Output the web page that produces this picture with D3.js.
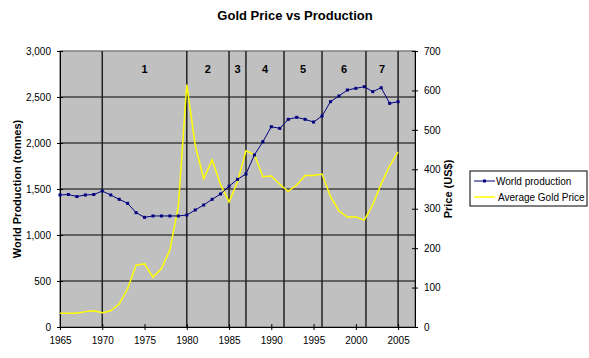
<!DOCTYPE html>
<html>
<head>
<meta charset="utf-8">
<script src="https://cdn.jsdelivr.net/npm/d3@7"></script>
<style>
  body { margin: 0; background: #fff; }
  text { font-family: Arial, "Liberation Sans", sans-serif; }
</style>
</head>
<body>
<div id="chart"></div>
<script>
// data
const years = d3.range(1965, 2006);
const production = [1435,1440,1418,1435,1440,1478,1435,1388,1344,1243,
                    1192,1207,1207,1207,1207,1217,1272,1326,1388,1446,
                    1530,1605,1663,1870,2014,2177,2159,2257,2279,2257,
                    2228,2293,2449,2511,2576,2594,2612,2558,2601,2431,2449];
const goldPrice = [35,35,35,39,41,36,41,58,97,157,
                   160,126,148,195,306,615,460,376,424,361,
                   317,368,447,437,381,383,362,344,360,384,
                   384,388,331,294,279,279,271,310,363,409,444];
const eraBounds = [1970, 1980, 1985, 1987, 1991.5, 1996, 2001.2, 2005];
const eraLabels = ["1", "2", "3", "4", "5", "6", "7"];
const xTicks = [1965, 1970, 1975, 1980, 1985, 1990, 1995, 2000, 2005];

const width = 589, height = 358;
const m = {left: 60, right: 174, top: 51, bottom: 31};
const plotW = width - m.left - m.right;
const plotH = height - m.top - m.bottom;

const svg = d3.select("#chart").append("svg")
    .attr("width", width)
    .attr("height", height);

// title
svg.append("text")
    .attr("x", 295).attr("y", 20)
    .attr("text-anchor", "middle")
    .attr("font-size", 13).attr("font-weight", "bold")
    .text("Gold Price vs Production");

const g = svg.append("g").attr("transform", `translate(${m.left},${m.top})`);

const x = d3.scaleLinear().domain([1965, 2007]).range([0, plotW]);
const yL = d3.scaleLinear().domain([0, 3000]).range([plotH, 0]);
const yR = d3.scaleLinear().domain([0, 700]).range([plotH, 0]);

// plot area
g.append("rect")
    .attr("width", plotW).attr("height", plotH)
    .attr("fill", "#c0c0c0")
    .attr("stroke", "#808080").attr("stroke-width", 1.5);

// horizontal gridlines
g.selectAll(".hgrid")
    .data(d3.range(500, 3000, 500))
    .enter().append("line")
    .attr("x1", 0).attr("x2", plotW)
    .attr("y1", d => yL(d)).attr("y2", d => yL(d))
    .attr("stroke", "#000").attr("stroke-width", 1);

// era boundaries
g.selectAll(".era")
    .data(eraBounds)
    .enter().append("line")
    .attr("x1", d => x(d)).attr("x2", d => x(d))
    .attr("y1", 0).attr("y2", plotH)
    .attr("stroke", "#222").attr("stroke-width", 1.5);

g.selectAll(".eraLabel")
    .data(eraLabels)
    .enter().append("text")
    .attr("x", (d, i) => (x(eraBounds[i]) + x(eraBounds[i + 1])) / 2)
    .attr("y", 22)
    .attr("text-anchor", "middle")
    .attr("font-size", 11).attr("font-weight", "bold")
    .text(d => d);

// axes
const axL = g.append("g")
    .call(d3.axisLeft(yL).tickValues(d3.range(0, 3001, 500))
        .tickFormat(d3.format(",")).tickSizeInner(3).tickSizeOuter(0).tickPadding(6));

const axR = g.append("g")
    .attr("transform", `translate(${plotW},0)`)
    .call(d3.axisRight(yR).tickValues(d3.range(0, 701, 100))
        .tickSizeInner(3).tickSizeOuter(0).tickPadding(6));
axR.selectAll(".tick line").attr("x1", -3);

const axB = g.append("g")
    .attr("transform", `translate(0,${plotH})`)
    .call(d3.axisBottom(x).tickValues(xTicks).tickFormat(d3.format("d"))
        .tickSizeInner(3).tickSizeOuter(0).tickPadding(7));
axB.selectAll(".tick line").attr("y1", -3);

[axL, axR, axB].forEach(a => {
    a.select(".domain").attr("stroke", "#000");
    a.selectAll(".tick line").attr("stroke", "#000");
    a.selectAll("text").attr("font-size", 10).attr("fill", "#000")
        .attr("font-family", "Arial, 'Liberation Sans', sans-serif");
});
axL.selectAll(".tick line").attr("x1", -3).attr("x2", 3);

// axis titles
svg.append("text")
    .attr("transform", `translate(21,${m.top + plotH / 2}) rotate(-90)`)
    .attr("text-anchor", "middle")
    .attr("font-size", 11).attr("font-weight", "bold")
    .text("World Production (tonnes)");

svg.append("text")
    .attr("transform", `translate(452,${m.top + plotH / 2}) rotate(-90)`)
    .attr("text-anchor", "middle")
    .attr("font-size", 11).attr("font-weight", "bold")
    .text("Price (US$)");

// lines
const prodLine = d3.line().x((d, i) => x(years[i])).y(d => yL(d));
const priceLine = d3.line().x((d, i) => x(years[i])).y(d => yR(d));

g.append("path")
    .datum(goldPrice)
    .attr("d", priceLine)
    .attr("fill", "none")
    .attr("stroke", "#ffff00").attr("stroke-width", 1.5);

g.append("path")
    .datum(production)
    .attr("d", prodLine)
    .attr("fill", "none")
    .attr("stroke", "#000080").attr("stroke-width", 1);

g.selectAll(".pt")
    .data(production)
    .enter().append("rect")
    .attr("x", (d, i) => x(years[i]) - 1.5)
    .attr("y", d => yL(d) - 1.5)
    .attr("width", 3).attr("height", 3)
    .attr("fill", "#000080");

// legend
const leg = svg.append("g").attr("transform", "translate(470,171)");
leg.append("rect")
    .attr("width", 117).attr("height", 35)
    .attr("fill", "#fff").attr("stroke", "#000");

const legItems = [
    {name: "World production", color: "#000080", marker: true},
    {name: "Average Gold Price", color: "#ffff00", marker: false}
];
legItems.forEach((d, i) => {
    const yy = 10 + i * 16;
    leg.append("line")
        .attr("x1", 4).attr("x2", 25)
        .attr("y1", yy).attr("y2", yy)
        .attr("stroke", d.color).attr("stroke-width", d.marker ? 1 : 1.5);
    if (d.marker) {
        leg.append("rect").attr("x", 13).attr("y", yy - 1.5)
            .attr("width", 3).attr("height", 3).attr("fill", d.color);
    }
    leg.append("text")
        .attr("x", i === 0 ? 26 : 28).attr("y", yy + 4)
        .attr("font-size", 10)
        .text(d.name);
});
</script>
</body>
</html>
